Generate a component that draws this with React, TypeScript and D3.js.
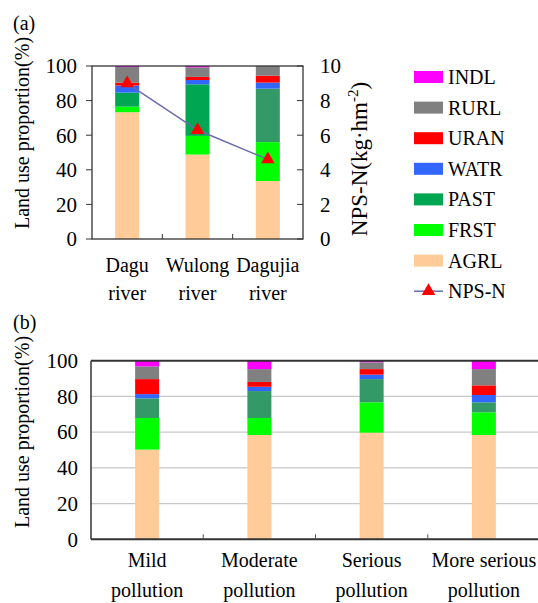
import React, { useEffect, useRef } from 'react';
import * as d3 from 'd3';

// land use classes, bottom to top of each stack
const landKeys = ['AGRL', 'FRST', 'PAST', 'WATR', 'URAN', 'RURL', 'INDL'];
const landColors = ['#ffcc99', '#00ff00', '#00a651', '#3366ff', '#ff0000', '#808080', '#ff00ff'];
const pastSeaGreen = '#339966';

// panel (a): rivers
const rivers = ['Dagu river', 'Wulong river', 'Dagujia river'];
const riverAGRL = [73.3, 48.8, 33.5];
const riverFRST = [3.2, 10.8, 22.5];
const riverPAST = [8.1, 29.8, 30.9];
const riverWATR = [4.1, 2.5, 3.5];
const riverURAN = [1.7, 1.8, 4.0];
const riverRURL = [9.0, 5.5, 5.6];
const riverINDL = [0.6, 0.8, 0.0];
const npsN = [9.0, 6.3, 4.6];

// panel (b): pollution levels
const levels = ['Mild pollution', 'Moderate pollution', 'Serious pollution', 'More serious pollution'];
const levelAGRL = [50.2, 58.4, 59.7, 58.4];
const levelFRST = [17.7, 9.5, 17.0, 12.7];
const levelPAST = [11.0, 15.1, 13.0, 5.6];
const levelWATR = [2.4, 2.4, 2.5, 4.1];
const levelURAN = [8.4, 2.7, 3.1, 5.4];
const levelRURL = [7.1, 7.2, 3.8, 9.1];
const levelINDL = [3.2, 4.7, 0.9, 4.7];

const pctTicks = [0, 20, 40, 60, 80, 100];
const npsTicks = [0, 2, 4, 6, 8, 10];

const buildRows = (cats: string[], cols: number[][]) =>
  cats.map((c, i) => {
    const row: any = { cat: c };
    landKeys.forEach((k, j) => (row[k] = cols[j][i]));
    return row;
  });

// split label into two lines at the last space
const twoLines = (s: string) => {
  const i = s.lastIndexOf(' ');
  return [s.slice(0, i), s.slice(i + 1)];
};

const App = () => {
  const ref = useRef<SVGSVGElement>(null);

  useEffect(() => {
    const svg = d3.select(ref.current);
    svg.selectAll('*').remove();
    const barW = 24;
    const stack = d3.stack().keys(landKeys);

    // ---------- panel (a) ----------
    const A = { left: 92, right: 303, top: 66, bottom: 239 };
    const xa = d3.scaleBand().domain(rivers).range([A.left, A.right]).padding(0);
    const ya = d3.scaleLinear().domain([0, 100]).range([A.bottom, A.top]);
    const yn = d3.scaleLinear().domain([0, 10]).range([A.bottom, A.top]);

    const rowsA = buildRows(rivers, [riverAGRL, riverFRST, riverPAST, riverWATR, riverURAN, riverRURL, riverINDL]);
    const seriesA = stack(rowsA);
    const ga = svg.append('g');
    seriesA.forEach((s, j) => {
      ga.append('g')
        .selectAll('rect')
        .data(s)
        .join('rect')
        .attr('x', (d: any) => xa(d.data.cat)! + (xa.bandwidth() - barW) / 2)
        .attr('width', barW)
        .attr('y', d => ya(d[1]))
        .attr('height', d => ya(d[0]) - ya(d[1]))
        // the last river's pasture block is drawn in sea green in the original
        .attr('fill', (d, i) => (landKeys[j] === 'PAST' && i === rivers.length - 1 ? pastSeaGreen : landColors[j]));
    });

    // frame
    ga.append('rect')
      .attr('x', A.left).attr('y', A.top)
      .attr('width', A.right - A.left).attr('height', A.bottom - A.top)
      .attr('fill', 'none').attr('stroke', '#333').attr('stroke-width', 1.3);

    // left ticks (outward)
    pctTicks.forEach(t => {
      ga.append('line').attr('x1', A.left - 6).attr('x2', A.left)
        .attr('y1', ya(t)).attr('y2', ya(t)).attr('stroke', '#333');
      ga.append('text').attr('x', 77).attr('y', ya(t)).attr('dy', '0.35em')
        .attr('text-anchor', 'end').attr('font-size', 21).text(t);
    });
    // right ticks (inward)
    npsTicks.forEach(t => {
      ga.append('line').attr('x1', A.right - 6).attr('x2', A.right)
        .attr('y1', yn(t)).attr('y2', yn(t)).attr('stroke', '#333');
      ga.append('text').attr('x', 320).attr('y', yn(t)).attr('dy', '0.35em')
        .attr('text-anchor', 'start').attr('font-size', 21).text(t);
    });
    // bottom ticks at category boundaries (inward)
    rivers.slice(1).forEach(c => {
      ga.append('line').attr('x1', xa(c)!).attr('x2', xa(c)!)
        .attr('y1', A.bottom).attr('y2', A.bottom - 5).attr('stroke', '#333');
    });
    rivers.forEach(c => {
      const [l1, l2] = twoLines(c);
      const cx = xa(c)! + xa.bandwidth() / 2;
      ga.append('text').attr('x', cx).attr('y', 272).attr('text-anchor', 'middle')
        .attr('font-size', 20).text(l1);
      ga.append('text').attr('x', cx).attr('y', 300).attr('text-anchor', 'middle')
        .attr('font-size', 20).text(l2);
    });

    // NPS-N line + markers
    const tri = d3.symbol().type(d3.symbolTriangle).size(80);
    const line = d3.line<number>()
      .x((_, i) => xa(rivers[i])! + xa.bandwidth() / 2)
      .y(d => yn(d));
    ga.append('path').datum(npsN).attr('d', line).attr('fill', 'none')
      .attr('stroke', '#6b6bb0').attr('stroke-width', 1.5);
    ga.selectAll('path.mk').data(npsN).join('path').attr('class', 'mk')
      .attr('d', tri)
      .attr('transform', (d, i) => `translate(${xa(rivers[i])! + xa.bandwidth() / 2},${yn(d)})`)
      .attr('fill', '#ff0000');

    // axis titles
    ga.append('text').attr('transform', 'translate(29,133) rotate(-90)')
      .attr('text-anchor', 'middle').attr('font-size', 20)
      .text('Land use proportion(%)');
    const rt = ga.append('text').attr('transform', 'translate(367,159) rotate(-90)')
      .attr('text-anchor', 'middle').attr('font-size', 23);
    rt.append('tspan').text('NPS-N(kg·hm');
    rt.append('tspan').attr('dy', -9).attr('font-size', 15).text('-2');
    rt.append('tspan').attr('dy', 9).text(')');
    ga.append('text').attr('x', 13).attr('y', 30).attr('font-size', 20).text('(a)');

    // legend
    const lg = svg.append('g');
    const legendItems = [...landKeys].reverse();
    legendItems.forEach((k, i) => {
      const cy = 77 + i * 30.6;
      lg.append('rect').attr('x', 414).attr('y', cy - 6).attr('width', 29).attr('height', 12)
        .attr('fill', landColors[landKeys.indexOf(k)]);
      lg.append('text').attr('x', 448).attr('y', cy).attr('dy', '0.35em')
        .attr('font-size', 20).text(k);
    });
    const ny = 77 + legendItems.length * 30.6;
    lg.append('line').attr('x1', 414).attr('x2', 443).attr('y1', ny).attr('y2', ny)
      .attr('stroke', '#6b6bb0').attr('stroke-width', 1.5);
    lg.append('path').attr('d', tri).attr('transform', `translate(428.5,${ny})`).attr('fill', '#ff0000');
    lg.append('text').attr('x', 448).attr('y', ny).attr('dy', '0.35em')
      .attr('font-size', 20).text('NPS-N');

    // ---------- panel (b) ----------
    const B = { left: 91, right: 540, top: 360.7, bottom: 539.3 };
    const xb = d3.scaleBand().domain(levels).range([B.left, B.right]).padding(0);
    const yb = d3.scaleLinear().domain([0, 100]).range([B.bottom, B.top]);
    const gb = svg.append('g');

    // gridlines
    pctTicks.slice(1, -1).forEach(t => {
      gb.append('line').attr('x1', B.left).attr('x2', B.right)
        .attr('y1', yb(t)).attr('y2', yb(t)).attr('stroke', '#c8c8c8').attr('stroke-width', 1.3);
    });

    const rowsB = buildRows(levels, [levelAGRL, levelFRST, levelPAST, levelWATR, levelURAN, levelRURL, levelINDL]);
    const seriesB = stack(rowsB);
    seriesB.forEach((s, j) => {
      gb.append('g')
        .attr('fill', landKeys[j] === 'PAST' ? pastSeaGreen : landColors[j])
        .selectAll('rect')
        .data(s)
        .join('rect')
        .attr('x', (d: any) => xb(d.data.cat)! + (xb.bandwidth() - barW) / 2)
        .attr('width', barW)
        .attr('y', d => yb(d[1]))
        .attr('height', d => yb(d[0]) - yb(d[1]));
    });

    gb.append('line').attr('x1', B.left).attr('x2', B.right).attr('y1', B.top).attr('y2', B.top)
      .attr('stroke', '#333').attr('stroke-width', 2);
    gb.append('line').attr('x1', B.left).attr('x2', B.right).attr('y1', B.bottom).attr('y2', B.bottom)
      .attr('stroke', '#333').attr('stroke-width', 2);
    gb.append('line').attr('x1', B.left).attr('x2', B.left).attr('y1', B.top).attr('y2', B.bottom)
      .attr('stroke', '#333').attr('stroke-width', 1.5);

    pctTicks.forEach(t => {
      gb.append('text').attr('x', 78).attr('y', yb(t)).attr('dy', '0.35em')
        .attr('text-anchor', 'end').attr('font-size', 21).text(t);
    });
    levels.slice(1).forEach(c => {
      gb.append('line').attr('x1', xb(c)!).attr('x2', xb(c)!)
        .attr('y1', B.bottom).attr('y2', B.bottom - 5).attr('stroke', '#555');
    });
    levels.forEach(c => {
      const [l1, l2] = twoLines(c);
      const cx = xb(c)! + xb.bandwidth() / 2;
      gb.append('text').attr('x', cx).attr('y', 567).attr('text-anchor', 'middle')
        .attr('font-size', 20).text(l1);
      gb.append('text').attr('x', cx).attr('y', 597).attr('text-anchor', 'middle')
        .attr('font-size', 20).text(l2);
    });

    gb.append('text').attr('transform', 'translate(29,432) rotate(-90)')
      .attr('text-anchor', 'middle').attr('font-size', 20)
      .text('Land use proportion(%)');
    gb.append('text').attr('x', 13).attr('y', 329).attr('font-size', 20).text('(b)');
  }, []);

  return (
    <svg
      ref={ref}
      width={538}
      height={603}
      fontFamily="Liberation Serif"
      style={{ position: 'absolute', left: 0, top: 0, background: '#fff' }}
    />
  );
};

export default App;
